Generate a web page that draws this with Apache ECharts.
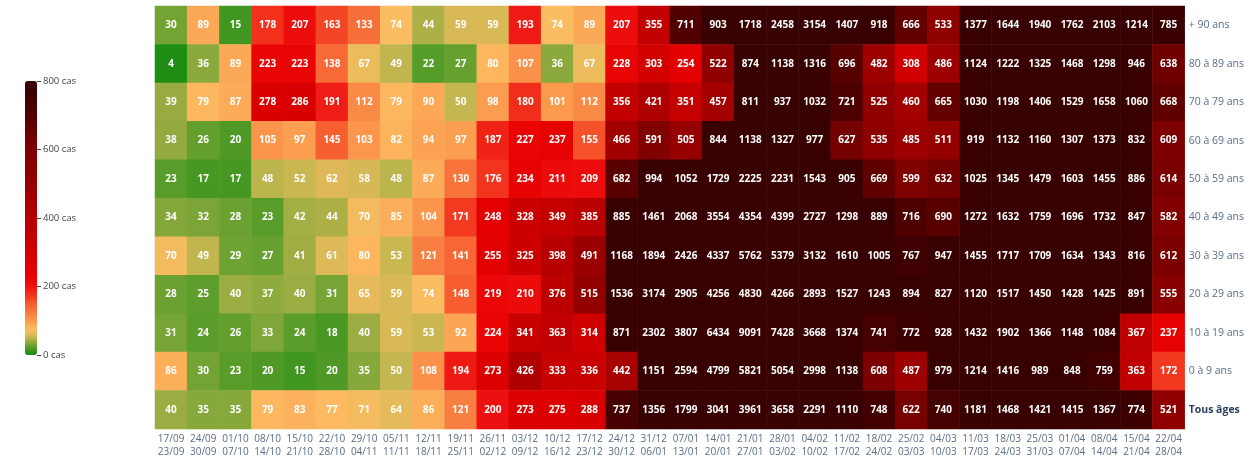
<!DOCTYPE html>
<html><head><meta charset="utf-8">
<script src="https://cdn.jsdelivr.net/npm/echarts@6/dist/echarts.min.js"></script>
<style>html,body{margin:0;padding:0;background:#fff}#c{width:1247px;height:459px}</style>
</head><body><div id="c"></div>
<script>
const weeks = ['17/09\n23/09','24/09\n30/09','01/10\n07/10','08/10\n14/10','15/10\n21/10','22/10\n28/10','29/10\n04/11','05/11\n11/11','12/11\n18/11','19/11\n25/11','26/11\n02/12','03/12\n09/12','10/12\n16/12','17/12\n23/12','24/12\n30/12','31/12\n06/01','07/01\n13/01','14/01\n20/01','21/01\n27/01','28/01\n03/02','04/02\n10/02','11/02\n17/02','18/02\n24/02','25/02\n03/03','04/03\n10/03','11/03\n17/03','18/03\n24/03','25/03\n31/03','01/04\n07/04','08/04\n14/04','15/04\n21/04','22/04\n28/04'];
const ages = ['+ 90 ans','80 à 89 ans','70 à 79 ans','60 à 69 ans','50 à 59 ans','40 à 49 ans','30 à 39 ans','20 à 29 ans','10 à 19 ans','0 à 9 ans','Tous âges'];
const r90   = [30,89,15,178,207,163,133,74,44,59,59,193,74,89,207,355,711,903,1718,2458,3154,1407,918,666,533,1377,1644,1940,1762,2103,1214,785];
const r80   = [4,36,89,223,223,138,67,49,22,27,80,107,36,67,228,303,254,522,874,1138,1316,696,482,308,486,1124,1222,1325,1468,1298,946,638];
const r70   = [39,79,87,278,286,191,112,79,90,50,98,180,101,112,356,421,351,457,811,937,1032,721,525,460,665,1030,1198,1406,1529,1658,1060,668];
const r60   = [38,26,20,105,97,145,103,82,94,97,187,227,237,155,466,591,505,844,1138,1327,977,627,535,485,511,919,1132,1160,1307,1373,832,609];
const r50   = [23,17,17,48,52,62,58,48,87,130,176,234,211,209,682,994,1052,1729,2225,2231,1543,905,669,599,632,1025,1345,1479,1603,1455,886,614];
const r40   = [34,32,28,23,42,44,70,85,104,171,248,328,349,385,885,1461,2068,3554,4354,4399,2727,1298,889,716,690,1272,1632,1759,1696,1732,847,582];
const r30   = [70,49,29,27,41,61,80,53,121,141,255,325,398,491,1168,1894,2426,4337,5762,5379,3132,1610,1005,767,947,1455,1717,1709,1634,1343,816,612];
const r20   = [28,25,40,37,40,31,65,59,74,148,219,210,376,515,1536,3174,2905,4256,4830,4266,2893,1527,1243,894,827,1120,1517,1450,1428,1425,891,555];
const r10   = [31,24,26,33,24,18,40,59,53,92,224,341,363,314,871,2302,3807,6434,9091,7428,3668,1374,741,772,928,1432,1902,1366,1148,1084,367,237];
const r0    = [86,30,23,20,15,20,35,50,108,194,273,426,333,336,442,1151,2594,4799,5821,5054,2998,1138,608,487,979,1214,1416,989,848,759,363,172];
const rAll  = [40,35,35,79,83,77,71,64,86,121,200,273,275,288,737,1356,1799,3041,3961,3658,2291,1110,748,622,740,1181,1468,1421,1415,1367,774,521];
const rows = [r90,r80,r70,r60,r50,r40,r30,r20,r10,r0,rAll];
const legendTicks = [0,200,400,600,800];

const data = [];
rows.forEach((row, yi) => row.forEach((v, xi) => data.push([xi, yi, v])));

const colors = ['#138a0f','#5e9e2c','#c4b650','#fdbd62','#fb9a4e','#f87a3e','#f65a2e','#f2341e','#ee1010','#ea0404','#e40000','#dc0000','#d40000','#cc0000','#c40000','#bc0000','#b60000','#ae0000','#a60000','#a00000','#980000','#900000','#8a0000','#840000','#800000','#760000','#6a0000','#5e0000','#540000','#4a0000','#420000','#3c0000','#380000'];

const chart = echarts.init(document.getElementById('c'));
chart.setOption({
  animation: false,
  textStyle: {fontFamily: 'Open Sans'},
  grid: [
    {left: 155, right: 58, top: 6, bottom: 30},
    {left: 37, width: 1, top: 81, height: 274}
  ],
  xAxis: [
    {type: 'category', data: weeks, gridIndex: 0, axisLine: {show: false}, axisTick: {show: false},
     axisLabel: {color: '#5a6c86', fontSize: 10, lineHeight: 13, margin: 4, interval: 0}},
    {type: 'value', gridIndex: 1, show: false}
  ],
  yAxis: [
    {type: 'category', data: ages, gridIndex: 0, inverse: true, position: 'right',
     axisLine: {show: false}, axisTick: {show: false},
     axisLabel: {fontSize: 10.5, margin: 4, color: '#5a6c86',
       formatter: v => v === 'Tous âges' ? '{b|' + v + '}' : v,
       rich: {b: {fontWeight: 'bold', color: '#2a3f5f', fontSize: 10.5}}}},
    {type: 'value', gridIndex: 1, min: 0, max: 800, interval: 200, position: 'left',
     axisLine: {show: false}, splitLine: {show: false},
     axisTick: {show: true, inside: true, length: 4, lineStyle: {color: '#444'}},
     axisLabel: {inside: true, margin: 6, fontSize: 9.5, color: '#444', formatter: '{value} cas'}}
  ],
  visualMap: {
    type: 'continuous', min: 0, max: 800, seriesIndex: 0, calculable: false,
    orient: 'vertical', left: 25, top: 81, itemWidth: 12, itemHeight: 274, padding: 0,
    text: null, showLabel: false,
    inRange: {color: colors}
  },
  series: [{
    type: 'heatmap', xAxisIndex: 0, yAxisIndex: 0, data: data,
    label: {show: true, color: '#fff', fontWeight: 'bold', fontSize: 10, fontFamily: 'Open Sans'},
    itemStyle: {borderWidth: 0}
  }]
});
</script></body></html>
